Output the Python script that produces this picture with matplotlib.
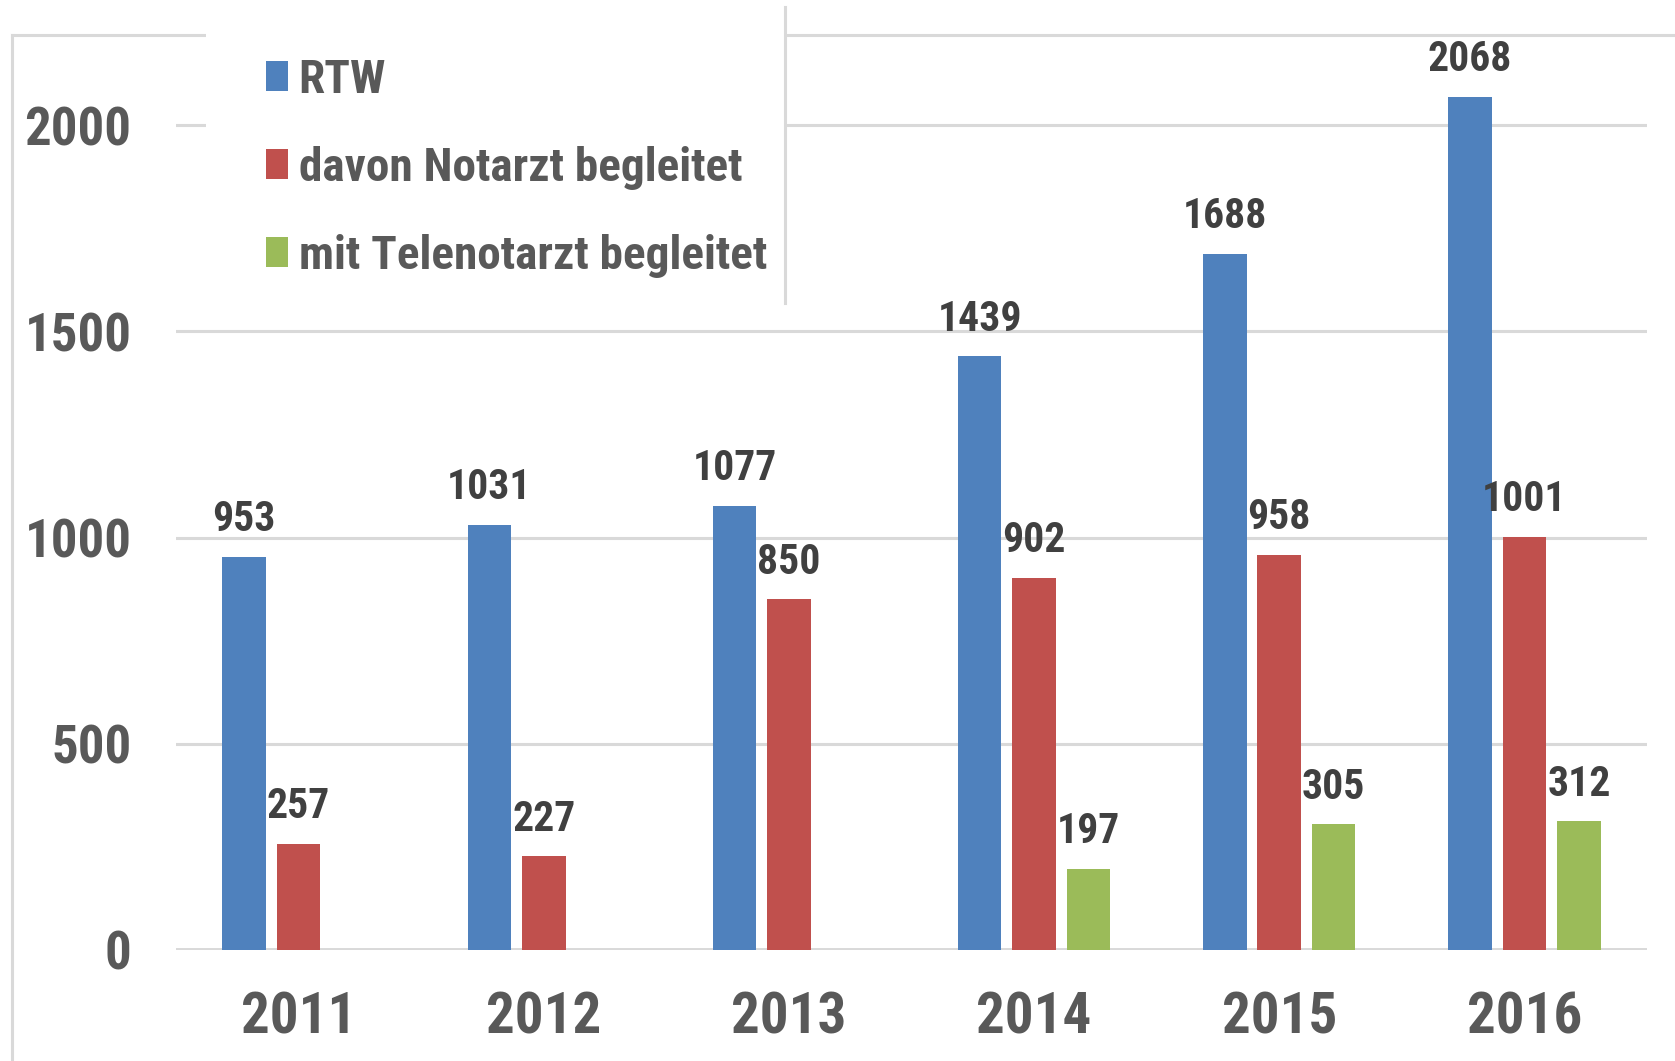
import numpy as np
import matplotlib
matplotlib.use("Agg")
import matplotlib.pyplot as plt
from matplotlib import font_manager
from matplotlib.patches import Rectangle
from matplotlib.lines import Line2D

years = ["2011", "2012", "2013", "2014", "2015", "2016"]
rtw = [953, 1031, 1077, 1439, 1688, 2068]
notarzt = [257, 227, 850, 902, 958, 1001]
telenotarzt = [np.nan, np.nan, np.nan, 197, 305, 312]

series_names = ["RTW", "davon Notarzt begleitet", "mit Telenotarzt begleitet"]
colors = ["#4F81BD", "#C0504D", "#9BBB59"]
yticks = [0, 500, 1000, 1500, 2000]

# pick a narrow font if one is there, the source text is condensed
names = {f.name for f in font_manager.fontManager.ttflist}
font = "Liberation Sans"
for cand in ["Liberation Sans Narrow", "Roboto Condensed", "Open Sans Condensed"]:
    if cand in names:
        font = cand
        break
plt.rcParams["font.family"] = [font, "DejaVu Sans"]

W, H = 1675, 1061
fig = plt.figure(figsize=(W / 100, H / 100), dpi=100)
fig.patch.set_facecolor("white")

def fx(px):
    return px / W

def fy(py):
    return 1 - py / H

grid_c = "#D9D9D9"
ax = fig.add_axes([fx(176), fy(950), fx(1647) - fx(176), fy(42.5) - fy(950)])
ax.set_xlim(-0.5, 5.5)
ax.set_ylim(0, 2200)
for s in ax.spines.values():
    s.set_visible(False)
ax.set_axisbelow(True)
ax.set_yticks(yticks)
ax.yaxis.grid(True, color=grid_c, linewidth=2.2)
ax.axhline(0, color=grid_c, linewidth=2.8, zorder=1)

x = np.arange(len(years))
width = 0.178
offsets = [-0.222, 0.0, 0.222]
for vals, off, col, name in zip([rtw, notarzt, telenotarzt], offsets, colors, series_names):
    bars = ax.bar(x + off, vals, width=width, color=col, label=name, zorder=3, linewidth=0)
    labels = ["" if np.isnan(v) else str(int(v)) for v in np.asarray(vals, dtype=float)]
    ax.bar_label(bars, labels=labels, padding=12, fontsize=30, fontweight="bold",
                 color="#404040")

ax.set_xticks(x)
ax.set_xticklabels(years)
ax.tick_params(axis="x", length=0, pad=29, labelsize=41, labelcolor="#595959")
ax.tick_params(axis="y", length=0, pad=32, labelsize=38, labelcolor="#595959")
for lab in ax.get_xticklabels() + ax.get_yticklabels():
    lab.set_fontweight("bold")

# chart border (partly hidden behind the legend box)
fig.add_artist(Line2D([fx(12), fx(12)], [fy(35), 0], color=grid_c, linewidth=2.2, zorder=2))
fig.add_artist(Line2D([fx(12), 1], [fy(35), fy(35)], color=grid_c, linewidth=2.2, zorder=2))

# white legend box with its right edge
fig.add_artist(Rectangle((fx(206), fy(303)), fx(785) - fx(206), fy(7) - fy(303),
                         transform=fig.transFigure, facecolor="white", edgecolor="none", zorder=3))
fig.add_artist(Line2D([fx(785), fx(785)], [fy(7), fy(303)], color=grid_c, linewidth=2.2, zorder=4))

handles, lbls = ax.get_legend_handles_labels()
leg = fig.legend(handles, lbls, loc="upper left", bbox_to_anchor=(fx(266), fy(58)),
                 frameon=False, borderpad=0, borderaxespad=0,
                 handlelength=0.47, handleheight=0.6, handletextpad=0.22,
                 labelspacing=0.93, prop={"size": 34, "weight": "bold"})
leg.set_zorder(6)
for t in leg.get_texts():
    t.set_color("#595959")

fig.savefig("out.png", dpi=100, facecolor="white")
